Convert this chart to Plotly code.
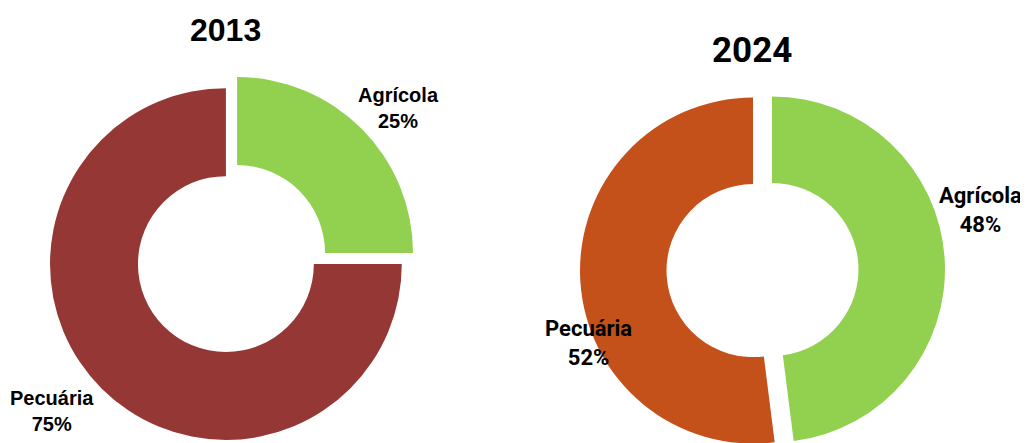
import plotly.graph_objects as go

# --- dados ---
setores = ["Agrícola", "Pecuária"]
valores_2013 = [25, 75]
valores_2024 = [48, 52]
anos = ["2013", "2024"]

W, H = 1028, 480
OFF = 8  # margem padrão do <body> na página
CORES_2013 = ["#92D050", "#953735"]
CORES_2024 = ["#92D050", "#C4501A"]
FONTE_ESQ = "Liberation Sans, Arial, sans-serif"
FONTE_DIR = "Roboto, Inter, sans-serif"


def _px(x, y):
    """Pixel da tela -> coordenadas de papel."""
    return (x - OFF) / W, 1 - (y - OFF) / H


def _dominio(cx, cy, meio):
    """Converte centro/semi-lado em pixels para domínio em papel."""
    cx, cy = cx - OFF, cy - OFF
    x0 = max(0, (cx - meio) / W)
    x1 = min(1, (cx + meio) / W)
    y0 = max(0, 1 - (cy + meio) / H)
    y1 = min(1, 1 - (cy - meio) / H)
    return dict(x=[x0, x1], y=[y0, y1])


fig = go.Figure()

fig.add_trace(
    go.Pie(
        labels=setores,
        values=valores_2013,
        hole=0.5,
        sort=False,
        direction="clockwise",
        rotation=0,
        pull=[0.045, 0.045],
        marker=dict(colors=CORES_2013),
        textinfo="none",
        hoverinfo="label+percent",
        domain=_dominio(231.5, 258.5, 183.8),
        showlegend=False,
    )
)

fig.add_trace(
    go.Pie(
        labels=setores,
        values=valores_2024,
        hole=0.5,
        sort=False,
        direction="clockwise",
        rotation=0,
        pull=[0.055, 0.055],
        marker=dict(colors=CORES_2024),
        textinfo="none",
        hoverinfo="label+percent",
        domain=_dominio(762.5, 270, 182.5),
        showlegend=False,
    )
)

# títulos
for ano, (tx, ty), fam, tam in [
    (anos[0], (225, 30), FONTE_ESQ, 32),
    (anos[1], (752, 50), FONTE_DIR, 35),
]:
    x, y = _px(tx, ty)
    fig.add_annotation(
        x=x, y=y, text=ano, showarrow=False, xanchor="center", yanchor="middle",
        font=dict(family=fam, size=tam, color="black", weight="bold"),
    )

# rótulos das fatias
rotulos = [
    (setores[0], valores_2013[0], 398, 108, FONTE_ESQ, 20),
    (setores[1], valores_2013[1], 52, 411, FONTE_ESQ, 20),
    (setores[0], valores_2024[0], 980, 210, FONTE_DIR, 22),
    (setores[1], valores_2024[1], 588, 343, FONTE_DIR, 22),
]
for nome, val, px_x, px_y, fam, tam in rotulos:
    x, y = _px(px_x, px_y)
    fig.add_annotation(
        x=x, y=y, text=f"{nome}<br>{val}%", showarrow=False,
        xanchor="center", yanchor="middle",
        font=dict(family=fam, size=tam, color="black", weight="bold"),
        xref="paper", yref="paper",
    )

fig.update_layout(
    width=W,
    height=H,
    margin=dict(l=0, r=0, t=0, b=0),
    paper_bgcolor="white",
    plot_bgcolor="white",
)

fig.write_html("out.html")
